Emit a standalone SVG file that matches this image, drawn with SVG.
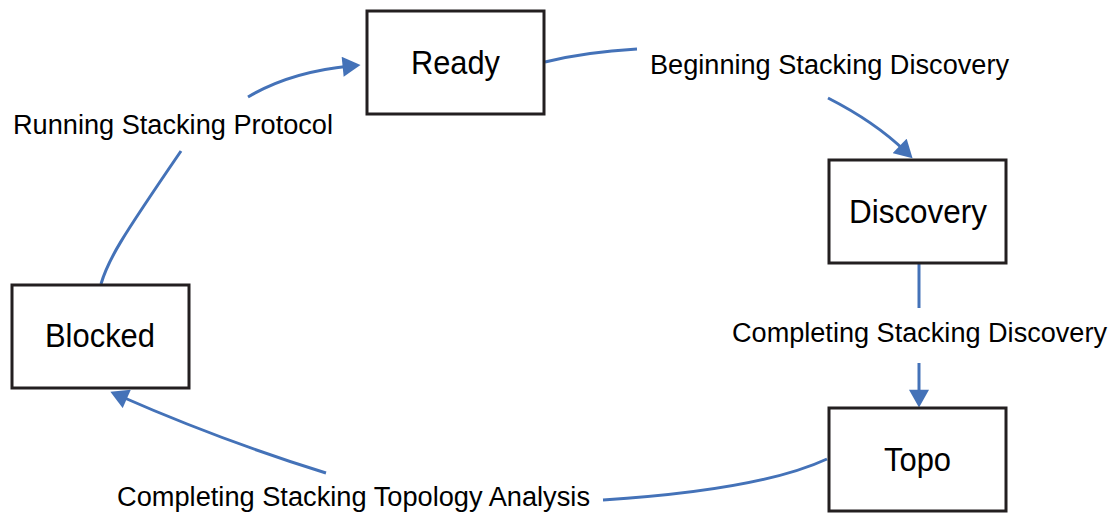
<svg xmlns="http://www.w3.org/2000/svg" width="1115" height="514" viewBox="0 0 1115 514">
<style>
.box{fill:#fff;stroke:#231f20;stroke-width:3}
.nt{font-family:"Liberation Sans",Arial,sans-serif;font-size:33px;fill:#000;text-anchor:middle}
.lb{font-family:"Liberation Sans",Arial,sans-serif;font-size:27px;fill:#000}
.cn{fill:none;stroke:#4472b8;stroke-width:3}
</style>
<defs>
<marker id="ah" markerUnits="userSpaceOnUse" markerWidth="20" markerHeight="20" refX="7" refY="9.5" orient="auto" viewBox="0 0 18 19">
<path d="M0,0 L17,9.5 L0,19 z" fill="#4472b8"/>
</marker>
</defs>
<rect width="1115" height="514" fill="#fff"/>
<g id="connectors">
<path class="cn" d="M545,62 Q585,52 637,49"/>
<path class="cn" d="M828,98 Q875,122 905,151" marker-end="url(#ah)"/>
<path class="cn" d="M919,263 L919,308"/>
<path class="cn" d="M919,363 L919,397" marker-end="url(#ah)"/>
<path class="cn" d="M827,459 Q760,490 603,500"/>
<path class="cn" d="M326,473 Q220,440 120,396" marker-end="url(#ah)"/>
<path class="cn" d="M101,284 C108,260 120,240 181,151"/>
<path class="cn" d="M248,97 Q290,72 350,66" marker-end="url(#ah)"/>
<text class="lb" x="650" y="74" textLength="359" lengthAdjust="spacingAndGlyphs">Beginning Stacking Discovery</text>
<text class="lb" x="732" y="342" textLength="375" lengthAdjust="spacingAndGlyphs">Completing Stacking Discovery</text>
<text class="lb" x="117" y="506" textLength="473" lengthAdjust="spacingAndGlyphs">Completing Stacking Topology Analysis</text>
<text class="lb" x="13" y="134" textLength="320" lengthAdjust="spacingAndGlyphs">Running Stacking Protocol</text>
</g>
<g id="ready">
<rect class="box" x="367" y="11" width="177" height="103"/>
<text class="nt" x="455.5" y="74" textLength="89" lengthAdjust="spacingAndGlyphs">Ready</text>
</g>
<g id="discovery">
<rect class="box" x="829" y="160" width="177" height="103"/>
<text class="nt" x="918" y="222.5" textLength="138" lengthAdjust="spacingAndGlyphs">Discovery</text>
</g>
<g id="topo">
<rect class="box" x="829" y="408" width="177" height="103"/>
<text class="nt" x="917.5" y="470.5" textLength="67" lengthAdjust="spacingAndGlyphs">Topo</text>
</g>
<g id="blocked">
<rect class="box" x="12" y="285" width="177" height="103"/>
<text class="nt" x="100" y="347" textLength="110" lengthAdjust="spacingAndGlyphs">Blocked</text>
</g>
</svg>
